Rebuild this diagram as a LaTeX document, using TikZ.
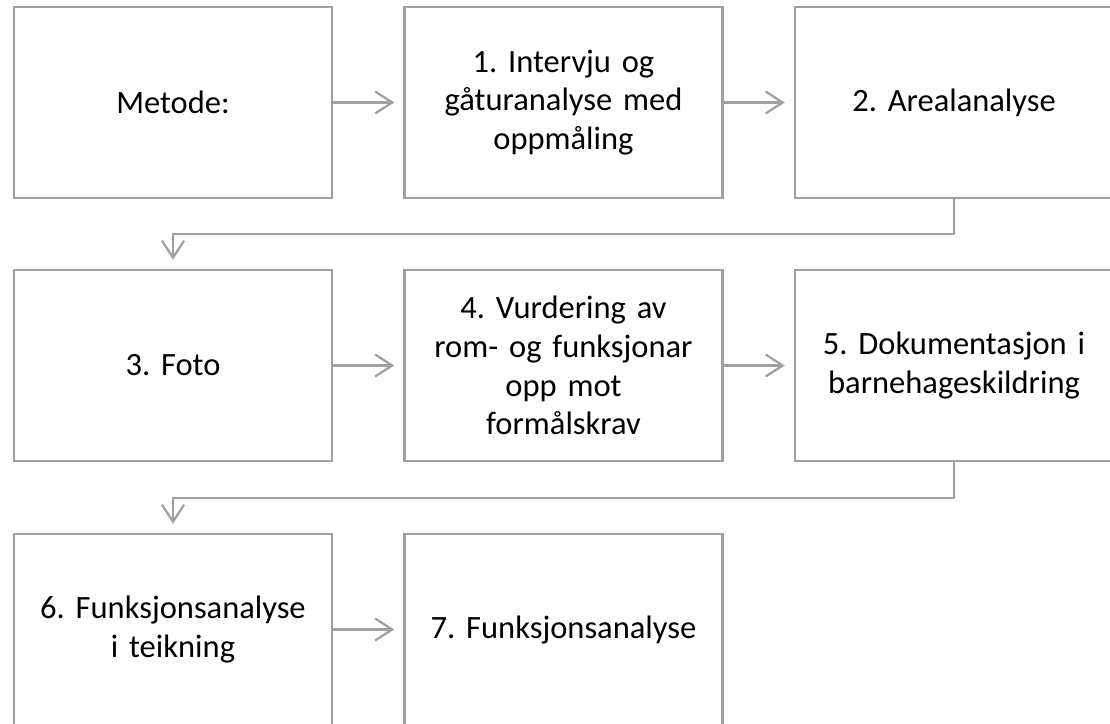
\documentclass[tikz,border=0pt]{standalone}
\usepackage{fontspec}
\setmainfont{Carlito}
\frenchspacing
\usetikzlibrary{arrows.meta}
\definecolor{linegray}{RGB}{160,160,160}

\tikzset{
    stage/.style={draw=linegray, line width=1.4pt, minimum width=6.36cm, minimum height=3.82cm,
        text width=6.2cm, align=center, inner sep=0pt, font=\fontsize{18.5}{22}\selectfont},
    link/.style={draw=linegray, line width=1.3pt, shorten >=0.18cm,
        -{Straight Barb[length=0.34cm, width=0.44cm, line width=1.3pt]}}
}

\begin{document}
\begin{tikzpicture}
    \useasboundingbox (0, 0) rectangle (22.2, -14.46);
    % first row
    \node[stage] (metode) at (3.46, -2.05) {Metode:};
    \node[stage] (intervju) at (11.27, -2.05) {1. Intervju og\\gåturanalyse med\\oppmåling};
    \node[stage] (areal) at (19.08, -2.05) {2. Arealanalyse};
    % second row
    \node[stage] (foto) at (3.46, -7.31) {3. Foto};
    \node[stage] (vurdering) at (11.27, -7.31) {4. Vurdering av\\rom- og funksjonar\\opp mot\\formålskrav};
    \node[stage] (dok) at (19.08, -7.31) {5. Dokumentasjon i\\barnehageskildring};
    % third row
    \node[stage] (teikning) at (3.46, -12.59) {6. Funksjonsanalyse\\i teikning};
    \node[stage] (funksjon) at (11.27, -12.59) {7. Funksjonsanalyse};

    \draw[link] (metode) -- (intervju);
    \draw[link] (intervju) -- (areal);
    \draw[link] (areal.south) -- ++(0, -0.7) -| (foto.north);
    \draw[link] (foto) -- (vurdering);
    \draw[link] (vurdering) -- (dok);
    \draw[link] (dok.south) -- ++(0, -0.72) -| (teikning.north);
    \draw[link] (teikning) -- (funksjon);
\end{tikzpicture}
\end{document}
